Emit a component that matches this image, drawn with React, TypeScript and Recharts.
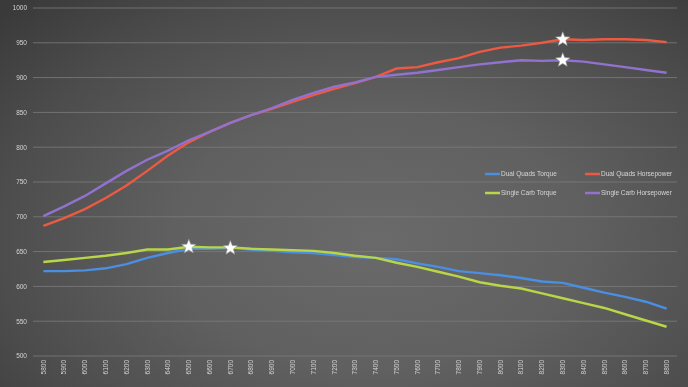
import React from "react";
import { LineChart, Line, XAxis, YAxis, CartesianGrid, Legend } from "recharts";

const rpm = [5800, 5900, 6000, 6100, 6200, 6300, 6400, 6500, 6600, 6700, 6800, 6900, 7000, 7100, 7200, 7300, 7400, 7500, 7600, 7700, 7800, 7900, 8000, 8100, 8200, 8300, 8400, 8500, 8600, 8700, 8800];
const dualQuadsTorque = [622, 622, 623, 626, 632, 641, 648, 654, 654, 655, 653, 651, 649, 648, 645, 642, 641, 639, 633, 628, 622, 619, 616, 612, 607, 605, 598, 591, 585, 578, 568];
const dualQuadsHorsepower = [687, 698, 711, 727, 745, 766, 788, 807, 822, 835, 846, 855, 865, 875, 884, 892, 901, 913, 915, 922, 928, 937, 943, 946, 950, 955, 954, 955, 955, 954, 951];
const singleCarbTorque = [635, 638, 641, 644, 648, 653, 653, 657, 656, 656, 654, 653, 652, 651, 648, 644, 641, 634, 628, 621, 614, 606, 601, 597, 590, 583, 576, 569, 560, 551, 542];
const singleCarbHorsepower = [701, 715, 730, 748, 766, 782, 795, 810, 822, 835, 846, 856, 868, 878, 887, 893, 901, 904, 907, 911, 915, 919, 922, 925, 924, 925, 923, 919, 915, 911, 907];
const yTicks = [500, 550, 600, 650, 700, 750, 800, 850, 900, 950, 1000];

const seriesNames = ["Dual Quads Torque", "Dual Quads Horsepower", "Single Carb Torque", "Single Carb Horsepower"];
const seriesColors = ["#4a8fe2", "#ec5a43", "#b9d548", "#9272cf"];
const starRpm = [6700, 8300, 6500, 8300];

const data = rpm.map((r, i) => ({
  rpm: r,
  dqT: dualQuadsTorque[i],
  dqH: dualQuadsHorsepower[i],
  scT: singleCarbTorque[i],
  scH: singleCarbHorsepower[i],
}));

const starPath = (cx: number, cy: number, R: number, r: number) => {
  let d = "";
  for (let k = 0; k < 10; k++) {
    const rad = k % 2 === 0 ? R : r;
    const a = -Math.PI / 2 + (k * Math.PI) / 5;
    d += (k === 0 ? "M" : "L") + (cx + rad * Math.cos(a)).toFixed(2) + "," + (cy + rad * Math.sin(a)).toFixed(2);
  }
  return d + "Z";
};

const makeDot = (target: number) => (p: any) => {
  const key = `d-${p.dataKey}-${p.index}`;
  if (p.payload && p.payload.rpm === target) {
    return (
      <path key={key} d={starPath(p.cx, p.cy, 7.5, 3.2)} fill="#ffffff" stroke="#9a9a9a" strokeWidth={0.6} />
    );
  }
  return <g key={key} />;
};

const XTick = (props: any) => {
  const { x, y, payload } = props;
  return (
    <text
      transform={`translate(${x},${y}) rotate(-90)`}
      textAnchor="end"
      dy="0.35em"
      fontSize={6.5}
      fill="#d4d4d4"
      fontFamily="Liberation Sans, Arial, sans-serif"
    >
      {payload.value}
    </text>
  );
};

const LegendContent = () => {
  const pos = [
    [485, 174],
    [585, 174],
    [485, 193],
    [585, 193],
  ];
  return (
    <svg width={688} height={387} style={{ position: "absolute", left: 0, top: 0, overflow: "visible", pointerEvents: "none" }}>
      {seriesNames.map((n, i) => (
        <g key={n}>
          <line x1={pos[i][0]} x2={pos[i][0] + 15} y1={pos[i][1]} y2={pos[i][1]} stroke={seriesColors[i]} strokeWidth={2.5} />
          <text
            x={pos[i][0] + 16}
            y={pos[i][1]}
            dy="0.35em"
            fontSize={6.5}
            fill="#d6d6d6"
            fontFamily="Liberation Sans, Arial, sans-serif"
          >
            {n}
          </text>
        </g>
      ))}
    </svg>
  );
};

export default function App() {
  return (
    <div
      style={{
        position: "fixed",
        left: 0,
        top: 0,
        width: 688,
        height: 387,
        background: "radial-gradient(ellipse 75% 85% at 55% 62%, #6a6a6a 0%, #606060 40%, #4c4c4c 75%, #3a3a3a 100%)",
      }}
    >
      <LineChart width={688} height={387} data={data} margin={{ top: 8, right: 11, bottom: 0, left: 0 }}>
        <CartesianGrid vertical={false} stroke="#7c7c7c" strokeWidth={0.8} />
        <XAxis
          dataKey="rpm"
          type="number"
          domain={[5750, 8850]}
          ticks={rpm}
          interval={0}
          axisLine={false}
          tickLine={false}
          tickSize={0}
          tickMargin={4}
          height={31}
          tick={<XTick />}
        />
        <YAxis
          domain={[500, 1000]}
          ticks={yTicks}
          width={33}
          axisLine={false}
          tickLine={false}
          tickSize={0}
          tickMargin={6}
          tick={{ fontSize: 6.5, fill: "#d4d4d4", fontFamily: "Liberation Sans, Arial, sans-serif" }}
        />
        <Legend
          content={<LegendContent />}
          wrapperStyle={{ position: "absolute", left: 0, top: 0, width: 0, height: 0, overflow: "visible" }}
        />
        <Line dataKey="dqT" name={seriesNames[0]} stroke={seriesColors[0]} strokeWidth={2.4} dot={makeDot(starRpm[0])} activeDot={false} isAnimationActive={false} />
        <Line dataKey="dqH" name={seriesNames[1]} stroke={seriesColors[1]} strokeWidth={2.4} dot={makeDot(starRpm[1])} activeDot={false} isAnimationActive={false} />
        <Line dataKey="scT" name={seriesNames[2]} stroke={seriesColors[2]} strokeWidth={2.4} dot={makeDot(starRpm[2])} activeDot={false} isAnimationActive={false} />
        <Line dataKey="scH" name={seriesNames[3]} stroke={seriesColors[3]} strokeWidth={2.4} dot={makeDot(starRpm[3])} activeDot={false} isAnimationActive={false} />
      </LineChart>
    </div>
  );
}
